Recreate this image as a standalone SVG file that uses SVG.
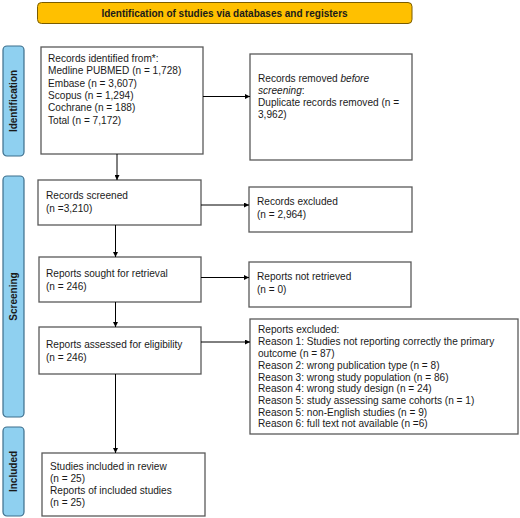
<svg xmlns="http://www.w3.org/2000/svg" width="520" height="518" viewBox="0 0 520 518">
<defs>
<marker id="ah" viewBox="0 0 10 10" refX="10" refY="5" markerWidth="5" markerHeight="5" orient="auto" markerUnits="userSpaceOnUse">
<path d="M0,0 L10,5 L0,10 z" fill="#000"/>
</marker>
<style>
text{font-family:"Liberation Sans",Arial,sans-serif;font-size:10.1px;fill:#1a1a1a}
.box{fill:#fff;stroke:#595959;stroke-width:1.3}
.lane{fill:#8fd0f0;stroke:#3d6e8c;stroke-width:1.2}
.lt{font-weight:bold;font-size:10px;text-anchor:middle}
.conn{stroke:#000;stroke-width:1;fill:none;marker-end:url(#ah)}
</style>
</defs>
<rect width="520" height="518" fill="#fff"/>
<g id="banner">
<rect x="37.5" y="2.5" width="374.5" height="21" rx="4" fill="#ffc000" stroke="#7a5c00" stroke-width="1"/>
<text x="224.5" y="17" class="lt">Identification of studies via databases and registers</text>
</g>
<g id="lane-identification">
<rect class="lane" x="3" y="46" width="21" height="110" rx="4"/>
<text class="lt" transform="translate(17,101) rotate(-90)">Identification</text>
</g>
<g id="lane-screening">
<rect class="lane" x="3" y="176" width="21" height="241" rx="4"/>
<text class="lt" transform="translate(17,296.5) rotate(-90)">Screening</text>
</g>
<g id="lane-included">
<rect class="lane" x="3" y="427" width="21" height="89" rx="4"/>
<text class="lt" transform="translate(17,471.5) rotate(-90)">Included</text>
</g>
<g id="records-identified">
<rect class="box" x="41" y="47" width="162" height="107"/>
<text x="48" y="62">Records identified from*:</text>
<text x="48" y="74.3">Medline PUBMED (n = 1,728)</text>
<text x="48" y="86.6">Embase (n = 3,607)</text>
<text x="48" y="98.9">Scopus (n = 1,294)</text>
<text x="48" y="111.2">Cochrane (n = 188)</text>
<text x="48" y="123.5">Total (n = 7,172)</text>
</g>
<g id="records-removed">
<rect class="box" x="250" y="54" width="162" height="106"/>
<text x="258" y="82">Records removed <tspan font-style="italic">before</tspan></text>
<text x="258" y="94"><tspan font-style="italic">screening</tspan>:</text>
<text x="258" y="106">Duplicate records removed  (n =</text>
<text x="258" y="118">3,962)</text>
</g>
<g id="records-screened">
<rect class="box" x="38" y="180" width="163" height="45"/>
<text x="46" y="199">Records screened</text>
<text x="46" y="212">(n =3,210)</text>
</g>
<g id="records-excluded">
<rect class="box" x="249" y="187" width="163" height="45"/>
<text x="257" y="205">Records excluded</text>
<text x="257" y="218">(n = 2,964)</text>
</g>
<g id="reports-sought">
<rect class="box" x="39" y="257" width="162" height="45"/>
<text x="46" y="277">Reports sought for retrieval</text>
<text x="46" y="290">(n = 246)</text>
</g>
<g id="reports-not-retrieved">
<rect class="box" x="249" y="262" width="162" height="45"/>
<text x="257" y="280">Reports not retrieved</text>
<text x="257" y="293">(n = 0)</text>
</g>
<g id="reports-assessed">
<rect class="box" x="39" y="327" width="162" height="47"/>
<text x="46" y="348">Reports assessed for eligibility</text>
<text x="46" y="361">(n = 246)</text>
</g>
<g id="reports-excluded">
<rect class="box" x="250" y="319" width="268" height="115"/>
<text x="258" y="333">Reports excluded:</text>
<text x="258" y="345">Reason 1: Studies not reporting correctly the primary</text>
<text x="258" y="357">outcome (n = 87)</text>
<text x="258" y="369">Reason 2: wrong publication type (n = 8)</text>
<text x="258" y="380.5">Reason 3: wrong study population (n = 86)</text>
<text x="258" y="392">Reason 4: wrong study design (n = 24)</text>
<text x="258" y="404">Reason 5: study assessing same cohorts (n = 1)</text>
<text x="258" y="415.5">Reason 5: non-English studies (n = 9)</text>
<text x="258" y="427">Reason 6: full text not available (n =6)</text>
</g>
<g id="studies-included">
<rect class="box" x="42" y="453" width="163" height="63"/>
<text x="50" y="470">Studies included in review</text>
<text x="50" y="482">(n = 25)</text>
<text x="50" y="494">Reports of included studies</text>
<text x="50" y="506">(n = 25)</text>
</g>
<g id="connectors">
<line class="conn" x1="203" y1="96.5" x2="250" y2="96.5"/>
<line class="conn" x1="117" y1="154" x2="117" y2="180"/>
<line class="conn" x1="201" y1="205" x2="249" y2="205"/>
<line class="conn" x1="115.5" y1="225" x2="115.5" y2="257"/>
<line class="conn" x1="201" y1="277.5" x2="249" y2="277.5"/>
<line class="conn" x1="115.5" y1="302" x2="115.5" y2="327"/>
<line class="conn" x1="201" y1="342" x2="250" y2="342"/>
<line class="conn" x1="115.5" y1="374" x2="115.5" y2="453"/>
</g>
</svg>
